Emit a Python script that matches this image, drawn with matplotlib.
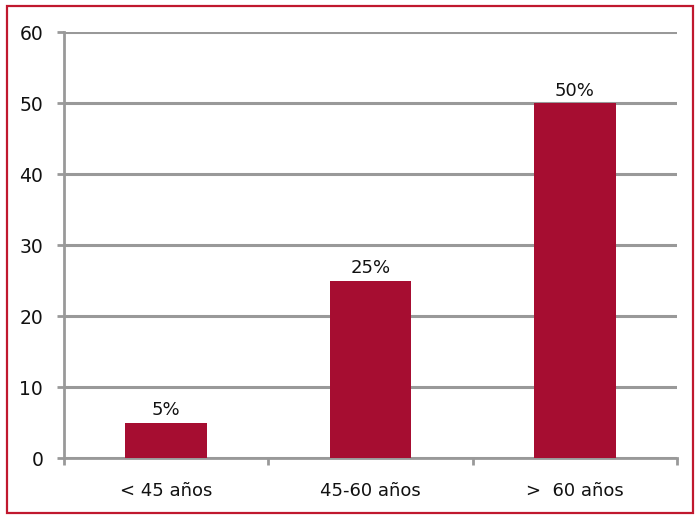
import matplotlib
matplotlib.use("Agg")
import matplotlib.pyplot as plt
from matplotlib.patches import Rectangle

categories = ["< 45 años", "45-60 años", ">  60 años"]
values = [5, 25, 50]
value_labels = ["5%", "25%", "50%"]
yticks = [0, 10, 20, 30, 40, 50, 60]

plt.rcParams['font.family'] = ['DejaVu Sans']

fig = plt.figure(figsize=(7.0, 5.19), dpi=100)
ax = fig.add_axes([0.0914, 0.1175, 0.8756, 0.8208])

grid_c = '#999999'
bar_c = '#A60D31'
x = list(range(len(categories)))
bars = ax.bar(x, values, width=0.4, color=bar_c, zorder=3)
for b, lab in zip(bars, value_labels):
    ax.annotate(lab, (b.get_x() + b.get_width() / 2, b.get_height()),
                xytext=(0, 2.5), textcoords='offset points', ha='center', va='bottom',
                fontsize=13, color='#111111')

ax.set_xlim(-0.5, len(categories) - 0.5)
ax.set_ylim(0, 60)
ax.set_yticks(yticks)
ax.set_yticklabels([str(v) for v in yticks], fontsize=13.5, color='#111111')
ax.set_xticks(x)
ax.set_xticklabels(categories, fontsize=13, color='#111111')
ax.tick_params(axis='x', length=0, pad=17)
ax.set_xticks([i - 0.5 for i in range(len(categories) + 1)], minor=True)
ax.tick_params(axis='x', which='minor', length=5, width=2, color=grid_c)
ax.tick_params(axis='y', length=5, width=2, color=grid_c, pad=10)
ax.yaxis.grid(True, color=grid_c, linewidth=2.2, zorder=0)
ax.set_axisbelow(True)
for s in ['top', 'right']:
    ax.spines[s].set_visible(False)
for s in ['left', 'bottom']:
    ax.spines[s].set_color(grid_c)
    ax.spines[s].set_linewidth(2)

border = Rectangle((7 / 700, 6 / 519), 686 / 700, 507 / 519, transform=fig.transFigure,
                   fill=False, edgecolor='#C0182E', linewidth=1.6)
fig.patches.append(border)

fig.savefig('out.png', dpi=100)
